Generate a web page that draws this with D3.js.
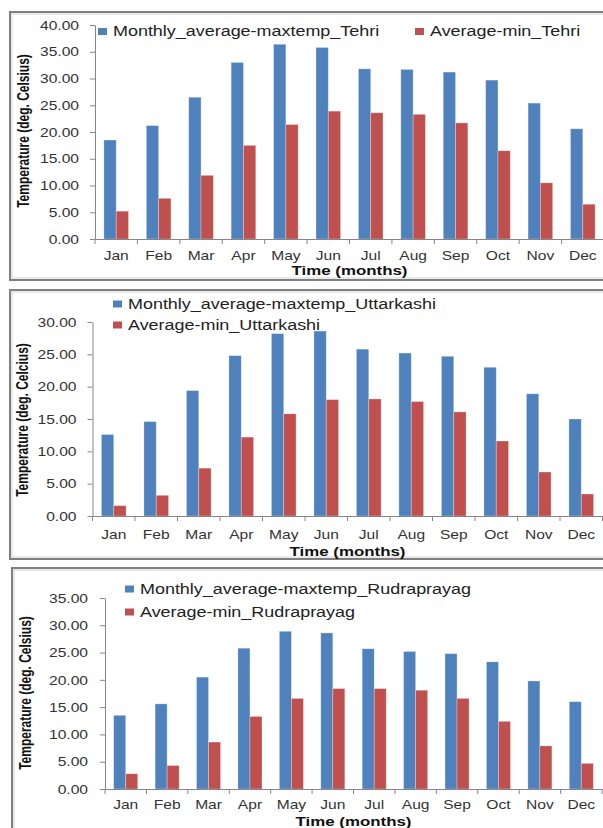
<!DOCTYPE html>
<html><head><meta charset="utf-8">
<script src="https://cdn.jsdelivr.net/npm/d3@7"></script>
<style>html,body{margin:0;padding:0;background:#fff;overflow:hidden}</style>
</head><body>
<svg id="c" width="603" height="828"></svg>
<script>
// ---- data ----
const months = ["Jan","Feb","Mar","Apr","May","Jun","Jul","Aug","Sep","Oct","Nov","Dec"];
const tehriMax = [18.5,21.2,26.5,33.0,36.4,35.8,31.8,31.7,31.2,29.7,25.4,20.6];
const tehriMin = [5.2,7.6,11.9,17.5,21.4,23.9,23.6,23.3,21.7,16.5,10.5,6.5];
const uttarkashiMax = [12.6,14.6,19.4,24.8,28.2,28.6,25.8,25.2,24.7,23.0,18.9,15.0];
const uttarkashiMin = [1.6,3.2,7.4,12.2,15.8,18.0,18.1,17.7,16.1,11.6,6.8,3.4];
const rudraMax = [13.5,15.6,20.5,25.8,28.9,28.6,25.7,25.2,24.8,23.3,19.8,16.0];
const rudraMin = [2.8,4.3,8.6,13.3,16.6,18.4,18.4,18.1,16.6,12.4,7.9,4.7];
const tehriLegend = ["Monthly_average-maxtemp_Tehri","Average-min_Tehri"];
const uttarkashiLegend = ["Monthly_average-maxtemp_Uttarkashi","Average-min_Uttarkashi"];
const rudraLegend = ["Monthly_average-maxtemp_Rudraprayag","Average-min_Rudraprayag"];
const tehriTicks = [0,5,10,15,20,25,30,35,40];
const uttarkashiTicks = [0,5,10,15,20,25,30];
const rudraTicks = [0,5,10,15,20,25,30,35];
const yTitles = ["Temperature (deg. Celsius)","Temperature (deg. Celcius)","Temperature (deg. Celsius)"];
const xTitle = "Time (months)";
const seriesColors = ["#4F81BD","#C0504D"];

// ---- layout ----
const FONT = "'Liberation Sans', Arial, sans-serif";
const SX = 1.3;
const svg = d3.select("#c");

const panels = [
  {max:tehriMax, min:tehriMin, legend:tehriLegend, ticks:tehriTicks, yTitle:yTitles[0],
   frame:[10,12,640,268], x0:95, x1:604, y0:239, yT:25,
   legendPos:[[98,31.5],[415,31.5]], yTitlePos:[29,131], monthY:256, xTitleY:270, gap:16},
  {max:uttarkashiMax, min:uttarkashiMin, legend:uttarkashiLegend, ticks:uttarkashiTicks, yTitle:yTitles[1],
   frame:[10,290,640,269], x0:92.5, x1:602.5, y0:516, yT:322,
   legendPos:[[113,304],[113,325]], yTitlePos:[28,420], monthY:535, xTitleY:551, gap:16},
  {max:rudraMax, min:rudraMin, legend:rudraLegend, ticks:rudraTicks, yTitle:yTitles[2],
   frame:[12,568,640,300], x0:105, x1:602, y0:789, yT:598,
   legendPos:[[125,589],[125,612]], yTitlePos:[31,693], monthY:805, xTitleY:821, gap:17}
];

panels.forEach(p => {
  const g = svg.append("g");
  const [fx,fy,fw,fh] = p.frame;
  g.append("rect").attr("x",fx).attr("y",fy).attr("width",fw).attr("height",fh)
    .attr("fill","#fff").attr("stroke","#7f7f7f").attr("stroke-width",2);
  g.append("rect").attr("x",fx+2).attr("y",fy+2).attr("width",fw-4).attr("height",fh-4)
    .attr("fill","none").attr("stroke","#d4d4d4").attr("stroke-width",1);

  const yMax = p.ticks[p.ticks.length-1];
  const y = d3.scaleLinear().domain([0,yMax]).range([p.y0,p.yT]);
  const x = d3.scaleBand().domain(months).range([p.x0,p.x1]).padding(0);
  const xs = d3.scaleBand().domain([0,1]).range([0,x.bandwidth()]).paddingInner(0).paddingOuter(0.724);

  // bars
  const data = months.map((m,i)=>({m, v:[p.max[i],p.min[i]]}));
  const grp = g.append("g").selectAll("g").data(data).join("g")
    .attr("transform",d=>`translate(${x(d.m)},0)`);
  grp.selectAll("rect").data(d=>d.v.map((v,k)=>({v,k}))).join("rect")
    .attr("x",d=>xs(d.k)).attr("width",xs.bandwidth())
    .attr("y",d=>y(d.v)).attr("height",d=>p.y0-y(d.v))
    .attr("fill",d=>seriesColors[d.k])
    .attr("stroke","rgba(255,255,255,0.35)").attr("stroke-width",0.8);

  // y axis
  const ya = g.append("g").attr("transform",`translate(${p.x0},0)`)
    .call(d3.axisLeft(y).tickValues(p.ticks).tickFormat(d3.format(".2f")).tickSize(5).tickSizeOuter(0));
  ya.select(".domain").attr("stroke","#868686");
  ya.selectAll(".tick line").attr("stroke","#868686");
  ya.selectAll(".tick text").attr("x",0).attr("dy","0.35em")
    .attr("transform",`translate(${-p.gap},0) scale(${SX},1)`)
    .attr("font-family",FONT).attr("font-size",12).attr("fill","#333");

  // x axis
  const xa = g.append("g").attr("transform",`translate(0,${p.y0})`)
    .call(d3.axisBottom(x).tickSize(0).tickSizeOuter(0));
  xa.select(".domain").attr("stroke","#868686");
  xa.selectAll(".tick text").attr("y",p.monthY-p.y0).attr("dy","0.35em")
    .attr("transform",`scale(${SX},1)`)
    .attr("font-family",FONT).attr("font-size",12).attr("fill","#333");
  const bounds = months.map(m=>x(m)).concat([p.x1]);
  xa.selectAll("line.bt").data(bounds).join("line").attr("class","bt")
    .attr("x1",d=>d).attr("x2",d=>d).attr("y1",0).attr("y2",5).attr("stroke","#868686");

  // legend
  p.legend.forEach((t,k)=>{
    const [lx,ly] = p.legendPos[k];
    g.append("rect").attr("x",lx).attr("y",ly-3.5).attr("width",9).attr("height",7).attr("fill",seriesColors[k]);
    g.append("text").text(t).attr("transform",`translate(${lx+15},${ly}) scale(${SX},1)`)
      .attr("dy","0.35em").attr("font-family",FONT).attr("font-size",13.8).attr("fill","#222");
  });

  // titles
  g.append("text").text(p.yTitle)
    .attr("transform",`translate(${p.yTitlePos[0]},${p.yTitlePos[1]}) rotate(-90) scale(1,${SX})`)
    .attr("text-anchor","middle").attr("font-family",FONT).attr("font-size",12).attr("font-weight","bold").attr("fill","#111");
  g.append("text").text(xTitle)
    .attr("transform",`translate(${(p.x0+p.x1)/2},${p.xTitleY}) scale(${SX},1)`)
    .attr("text-anchor","middle").attr("dy","0.35em").attr("font-family",FONT).attr("font-size",13).attr("font-weight","bold").attr("fill","#111");
});
</script>
</body></html>
